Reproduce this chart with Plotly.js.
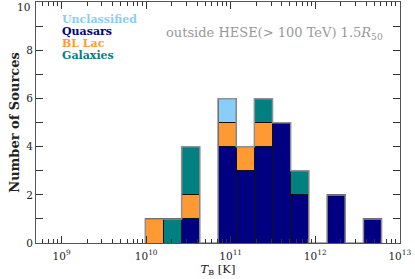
<!DOCTYPE html>
<html><head><meta charset="utf-8">
<script src="https://cdn.plot.ly/plotly-3.0.1.min.js"></script>
<style>html,body{margin:0;padding:0;background:#fff}#c{width:415px;height:279px}</style>
</head><body><div id="c"></div>
<script>
// log10 of bin edges for T_B [K]
const binEdgesLog = [9.99, 10.205, 10.42, 10.635, 10.85, 11.065, 11.28, 11.495, 11.71, 11.925, 12.14, 12.355, 12.57, 12.785];
const categories = ["Quasars", "BL Lac", "Galaxies", "Unclassified"];
const quasars      = [0, 0, 1, 0, 4, 3, 4, 5, 2, 0, 2, 0, 1];
const blLac        = [1, 0, 1, 0, 1, 1, 1, 0, 0, 0, 0, 0, 0];
const galaxies     = [0, 1, 2, 0, 0, 0, 1, 0, 1, 0, 0, 0, 0];
const unclassified = [0, 0, 0, 0, 1, 0, 0, 0, 0, 0, 0, 0, 0];
const xMajorTicks = [9, 10, 11, 12, 13];
const xTickLabels = ["10<sup>9</sup>", "10<sup>10</sup>", "10<sup>11</sup>", "10<sup>12</sup>", "10<sup>13</sup>"];
const yMajorTicks = [0, 2, 4, 6, 8, 10];
const yTickLabels = ["0", "2", "4", "6", "8", ""];
const yTopLabel = "10";
const legendOrder = ["Unclassified", "Quasars", "BL Lac", "Galaxies"];

const colors = {"Quasars":"#000080","BL Lac":"#ff9a33","Galaxies":"#008080","Unclassified":"#87cefa"};
const series = {"Quasars":quasars,"BL Lac":blLac,"Galaxies":galaxies,"Unclassified":unclassified};

const centers = [], widths = [];
for (let i = 0; i < binEdgesLog.length - 1; i++) {
  centers.push((binEdgesLog[i] + binEdgesLog[i+1]) / 2);
  widths.push(binEdgesLog[i+1] - binEdgesLog[i]);
}
const traces = categories.map(c => ({
  type: 'bar', x: centers, y: series[c], width: widths, name: c,
  marker: {color: colors[c], line: {color: '#111', width: 1}},
  hoverinfo: 'skip'
}));
// total step outline
const totals = centers.map((_, i) => quasars[i] + blLac[i] + galaxies[i] + unclassified[i]);
const sx = [binEdgesLog[0]], sy = [0];
for (let i = 0; i < totals.length; i++) { sx.push(binEdgesLog[i]); sy.push(totals[i]); }
sx.push(binEdgesLog[binEdgesLog.length-1]); sy.push(0);
traces.push({type:'scatter', mode:'lines', x: sx, y: sy, line:{shape:'hv', color:'#909090', width:1.5}, hoverinfo:'skip', showlegend:false});

const xr = [8.697, 13.003];
// minor tick positions (log axis minor ticks)
const xMinor = [];
for (let d = 8; d < 13; d++) for (let m = 2; m <= 9; m++) {
  const v = d + Math.log10(m);
  if (v > xr[0] && v < 13) xMinor.push(v);
}
traces.push({type:'scatter', x:[9], y:[0], xaxis:'x2', yaxis:'y', mode:'markers', marker:{opacity:0}, hoverinfo:'skip', showlegend:false});

const FAM = '"DejaVu Serif", serif';
const tickFont = {family: FAM, size: 10.5, color: '#222'};
const layout = {
  width: 415, height: 279,
  margin: {l: 36, r: 15, t: 2, b: 36},
  paper_bgcolor: '#fff', plot_bgcolor: '#fff',
  barmode: 'stack', bargap: 0, showlegend: false,
  font: {family: FAM, size: 11, color: '#222'},
  xaxis: {
    range: xr, tickmode: 'array', tickvals: xMajorTicks, ticktext: xTickLabels,
    ticks: 'inside', ticklen: 7, tickwidth: 1, tickcolor: '#333', mirror: 'allticks',
    showline: true, linecolor: '#555', linewidth: 1, showgrid: false, zeroline: false,
    tickfont: tickFont, ticklabelstandoff: 3, ticklabeloverflow: 'allow',
    title: {text: '<i>T</i><sub>B</sub> [K]', font: {family: FAM, size: 11.5, color: '#222'}, standoff: 1}
  },
  xaxis2: {
    overlaying: 'x', range: xr, tickmode: 'array', tickvals: xMinor, showticklabels: false,
    ticks: 'inside', ticklen: 4, tickwidth: 1, tickcolor: '#333', mirror: 'allticks',
    showline: false, showgrid: false, zeroline: false
  },
  yaxis: {
    range: [0, 10.02], tickmode: 'array', tickvals: yMajorTicks, ticktext: yTickLabels,
    ticks: 'inside', ticklen: 7, tickwidth: 1, tickcolor: '#333', mirror: 'allticks',
    minor: {dtick: 1, ticks: 'inside', ticklen: 4, tickcolor: '#333', showgrid: false},
    showline: true, linecolor: '#555', linewidth: 1, showgrid: false, zeroline: false,
    tickfont: tickFont, ticklabeloverflow: 'allow',
    title: {text: 'Number of Sources', font: {family: FAM, size: 13, color: '#222', weight: 'bold'}, standoff: 3}
  },
  annotations: legendOrder.map((c, i) => ({
      xref:'paper', yref:'paper', x:0.066, y:[0.927, 0.878, 0.828, 0.776][i], xanchor:'left', yanchor:'middle',
      showarrow:false, text:'<b>' + c + '</b>', font:{family:FAM, size:11, color:colors[c]}
    }))
  .concat([{xref:'paper', yref:'paper', x:0.959, y:0.869, xanchor:'right', yanchor:'middle', showarrow:false,
            text:'outside HESE(&gt; 100 TeV) 1.5<i>R</i><sub>50</sub>', font:{family:FAM, size:13, color:'#999'}},
           {xref:'paper', yref:'paper', x:-0.012, y:0.978, xanchor:'right', yanchor:'middle', showarrow:false,
            text:yTopLabel, font:tickFont}])
};
Plotly.newPlot('c', traces, layout, {displayModeBar:false, staticPlot:true});
</script></body></html>
